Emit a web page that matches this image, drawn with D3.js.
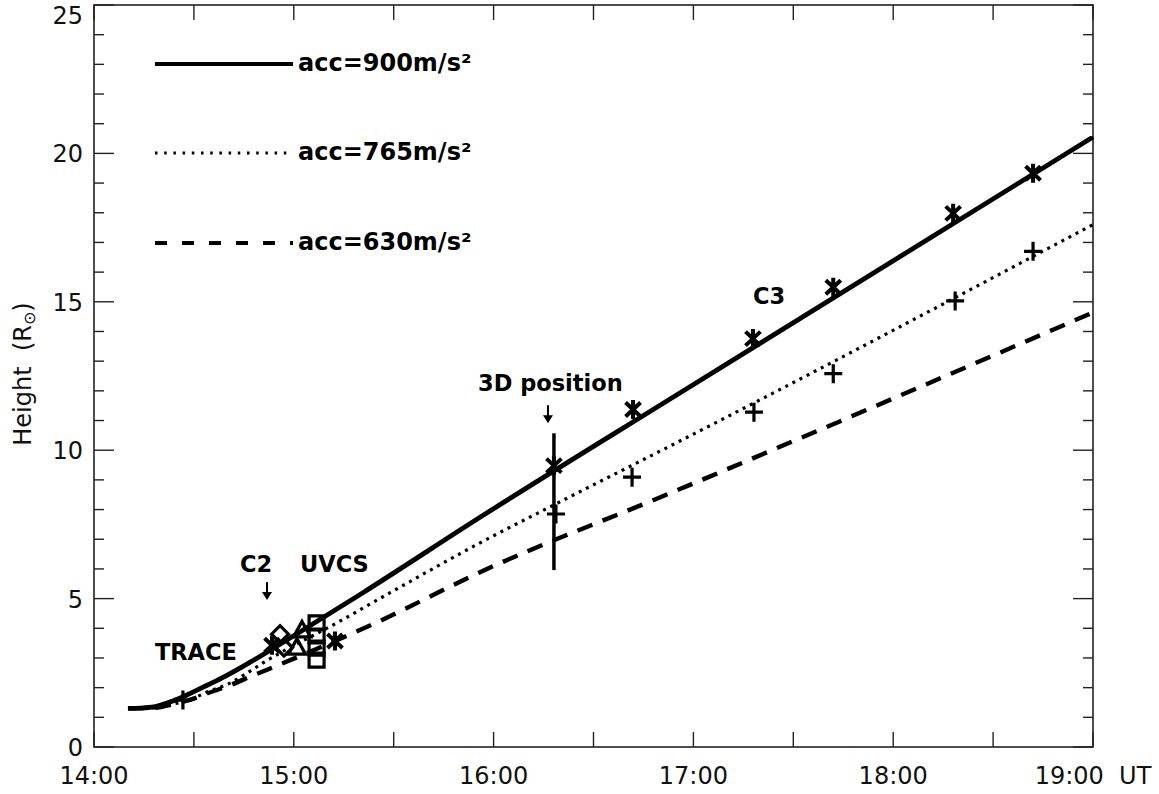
<!DOCTYPE html>
<html>
<head>
<meta charset="utf-8">
<script src="https://cdn.jsdelivr.net/npm/d3@7"></script>
<style>
  html, body { margin: 0; padding: 0; background: #fff; }
  svg { display: block; }
  text { white-space: pre; }
</style>
</head>
<body>
<svg id="chart" width="1159" height="794"></svg>
<script>
// ---------------- data (times in decimal hours UT, heights in solar radii) ----------------
const xTickValues = [14, 14.5, 15, 15.5, 16, 16.5, 17, 17.5, 18, 18.5, 19];
const xTickLabels = ["14:00", "15:00", "16:00", "17:00", "18:00", "19:00  UT"];
const xLabelValues = [14, 15, 16, 17, 18, 19];
const yMajorTicks = [0, 5, 10, 15, 20, 25];
const yMinorTicks = [1, 2, 3, 4, 6, 7, 8, 9, 11, 12, 13, 14, 16, 17, 18, 19, 21, 22, 23, 24];

// model curves
const acc900Time   = [14.17, 14.23, 14.30, 14.395, 14.48, 14.566, 14.656, 14.78, 15.0, 15.346, 15.932, 16.93, 19.0];
const acc900Height = [1.30, 1.31, 1.35, 1.55, 1.80, 2.08, 2.38, 2.85, 3.75, 5.2, 7.74, 11.92, 20.55];
const acc765Time   = [14.17, 14.30, 14.40, 14.5, 14.566, 14.68, 14.756, 14.85, 15.22, 15.48, 15.93, 16.3, 16.93, 19.0];
const acc765Height = [1.30, 1.32, 1.45, 1.65, 1.85, 2.15, 2.45, 2.85, 4.2, 5.19, 6.87, 8.15, 10.3, 17.6];
const acc630Time   = [14.17, 14.30, 14.40, 14.5, 14.556, 14.67, 14.8, 14.93, 15.416, 15.932, 16.883, 19.0];
const acc630Height = [1.30, 1.32, 1.45, 1.63, 1.78, 2.05, 2.42, 2.78, 4.2, 5.89, 8.55, 14.64];
const legendLabels = ["acc=900m/s\u00B2", "acc=765m/s\u00B2", "acc=630m/s\u00B2"];

// observations
const asteriskTime   = [14.891, 15.206, 16.302, 16.698, 17.298, 17.70, 18.30, 18.70];
const asteriskHeight = [3.43, 3.57, 9.48, 11.37, 13.76, 15.49, 17.98, 19.33];
const plusTime   = [14.445, 16.312, 16.693, 17.303, 17.70, 18.31, 18.70];
const plusHeight = [1.58, 7.85, 9.09, 11.28, 12.58, 15.03, 16.7];
const diamondTime   = [14.931, 14.951];
const diamondHeight = [3.80, 3.35];
const triangleTime   = [15.041, 15.016];
const triangleHeight = [3.91, 3.33];
const squareTime   = [15.114, 15.114, 15.114, 15.114];
const squareHeight = [4.18, 3.74, 3.33, 2.93];

// 3D position height range
const range3DTime = 16.302;
const range3DHeight = [5.96, 10.57];

// annotations (left edge / baseline in data coordinates)
const annoLabels  = ["TRACE", "C2", "UVCS", "3D position", "C3"];
const annoTime    = [14.305, 14.731, 15.031, 15.922, 17.298];
const annoHeight  = [2.93, 5.89, 5.89, 11.99, 14.92];
const arrowTime   = [14.866, 16.272];
const arrowHeight = [4.95, 10.91];

// ---------------- drawing ----------------
(function () {
const svg = d3.select("#chart");
const pL = 94, pR = 1093, pT = 5, pB = 747;

const x = d3.scaleLinear().domain([14, 19]).range([pL, pR]);
const y = d3.scaleLinear().domain([0, 25]).range([pB, pT]);

const ink = "#000";
const axisInk = "#222";
const tickFont = "'DejaVu Sans', sans-serif";
const boldFont = "'DejaVu Sans', sans-serif";

// frame
svg.append("rect").attr("x", pL).attr("y", pT)
  .attr("width", pR - pL).attr("height", pB - pT)
  .attr("fill", "none").attr("stroke", axisInk).attr("stroke-width", 1.6);

// x ticks (bottom and top)
const gx = svg.append("g");
gx.append("g").selectAll("line").data(xTickValues).join("line")
  .attr("x1", d => x(d)).attr("x2", d => x(d))
  .attr("y1", pB).attr("y2", pB - 15)
  .attr("stroke", axisInk).attr("stroke-width", 1.4);
gx.append("g").selectAll("line").data(xTickValues).join("line")
  .attr("x1", d => x(d)).attr("x2", d => x(d))
  .attr("y1", pT).attr("y2", pT + 15)
  .attr("stroke", axisInk).attr("stroke-width", 1.4);
gx.append("g").selectAll("text").data(xLabelValues).join("text")
  .attr("x", d => x(d)).attr("y", 784)
  .attr("text-anchor", "middle")
  .attr("font-family", tickFont).attr("font-size", 24).attr("fill", "#111")
  .text((d, i) => xTickLabels[i]);

// y ticks (left and right)
const gy = svg.append("g");
[[yMajorTicks, 20], [yMinorTicks, 10]].forEach(([vals, len]) => {
  gy.append("g").selectAll("line").data(vals).join("line")
    .attr("x1", pL).attr("x2", pL + len)
    .attr("y1", d => y(d)).attr("y2", d => y(d))
    .attr("stroke", axisInk).attr("stroke-width", 1.4);
  gy.append("g").selectAll("line").data(vals).join("line")
    .attr("x1", pR).attr("x2", pR - len)
    .attr("y1", d => y(d)).attr("y2", d => y(d))
    .attr("stroke", axisInk).attr("stroke-width", 1.4);
});
gy.append("g").selectAll("text").data(yMajorTicks).join("text")
  .attr("x", 83).attr("y", d => Math.max(y(d) + 9, 24))
  .attr("text-anchor", "end")
  .attr("font-family", tickFont).attr("font-size", 24).attr("fill", "#111")
  .text(d => d);

// y title
const yt = svg.append("text")
  .attr("transform", "translate(31,374) rotate(-90)")
  .attr("text-anchor", "middle")
  .attr("font-family", tickFont).attr("font-size", 24).attr("fill", "#111");
yt.append("tspan").text("Height  (R");
yt.append("tspan").attr("font-size", 16).attr("dy", 4).text("\u2299");
yt.append("tspan").attr("dy", -4).text(")");

// curves
const line = d3.line().x(d => x(d[0])).y(d => y(d[1])).curve(d3.curveMonotoneX);
const curves = [
  { t: acc900Time, h: acc900Height, w: 4.8, dash: null },
  { t: acc765Time, h: acc765Height, w: 3.2, dash: "3,5" },
  { t: acc630Time, h: acc630Height, w: 4.4, dash: "16,11" }
];
curves.forEach(c => {
  svg.append("path")
    .datum(c.t.map((t, i) => [t, c.h[i]]))
    .attr("d", line)
    .attr("fill", "none").attr("stroke", ink)
    .attr("stroke-width", c.w)
    .attr("stroke-dasharray", c.dash);
});

// legend
const lg = svg.append("g");
const legendY = [64, 153, 243];
const legendW = [4, 3, 4];
const legendDash = [null, "2.5,6.7", "12,15"];
legendLabels.forEach((lab, i) => {
  lg.append("line")
    .attr("x1", 155).attr("x2", 293)
    .attr("y1", legendY[i]).attr("y2", legendY[i])
    .attr("stroke", ink)
    .attr("stroke-width", legendW[i])
    .attr("stroke-dasharray", legendDash[i]);
  lg.append("text")
    .attr("x", 298).attr("y", legendY[i] + 7)
    .attr("font-family", boldFont).attr("font-weight", "bold")
    .attr("font-size", 24).attr("fill", ink)
    .text(lab);
});

// 3D position range bar
svg.append("line")
  .attr("x1", x(range3DTime)).attr("x2", x(range3DTime))
  .attr("y1", y(range3DHeight[0])).attr("y2", y(range3DHeight[1]))
  .attr("stroke", ink).attr("stroke-width", 3.5);

// markers
const mk = svg.append("g").attr("fill", "none").attr("stroke", ink)
  .attr("stroke-linejoin", "miter");
const asteriskPath = "M0,-9.5L0,9.5M-7.5,-7L7.5,7M-7.5,7L7.5,-7";
const plusPath = "M-9,0L9,0M0,-9.5L0,9.5";
const diamondPath = "M0,-8.5L8.5,0L0,8.5L-8.5,0Z";
const trianglePath = "M0,-9.5L8.5,6L-8.5,6Z";
const squarePath = "M-7.5,-7L7.5,-7L7.5,7L-7.5,7Z";
function drawMarkers(ts, hs, p, sw) {
  mk.append("g").attr("stroke-width", sw).selectAll("path").data(ts).join("path")
    .attr("transform", (d, i) => `translate(${x(d)},${y(hs[i])})`)
    .attr("d", p);
}
drawMarkers(squareTime, squareHeight, squarePath, 3.2);
drawMarkers(triangleTime, triangleHeight, trianglePath, 3.2);
drawMarkers(diamondTime, diamondHeight, diamondPath, 3.2);
drawMarkers(plusTime, plusHeight, plusPath, 3.2);
drawMarkers(asteriskTime, asteriskHeight, asteriskPath, 4);

// annotations
svg.append("g").selectAll("text").data(annoLabels).join("text")
  .attr("x", (d, i) => x(annoTime[i])).attr("y", (d, i) => y(annoHeight[i]))
  .attr("font-family", boldFont).attr("font-weight", "bold")
  .attr("font-size", 22.5).attr("fill", ink)
  .text(d => d);

// arrows
const ar = svg.append("g");
arrowTime.forEach((t, i) => {
  const ax = x(t), ay = y(arrowHeight[i]);
  ar.append("line").attr("x1", ax).attr("x2", ax)
    .attr("y1", ay - 18).attr("y2", ay - 5)
    .attr("stroke", ink).attr("stroke-width", 2);
  ar.append("path")
    .attr("d", `M${ax - 5},${ay - 8}L${ax + 5},${ay - 8}L${ax},${ay}Z`)
    .attr("fill", ink);
});
})();
</script>
</body>
</html>
